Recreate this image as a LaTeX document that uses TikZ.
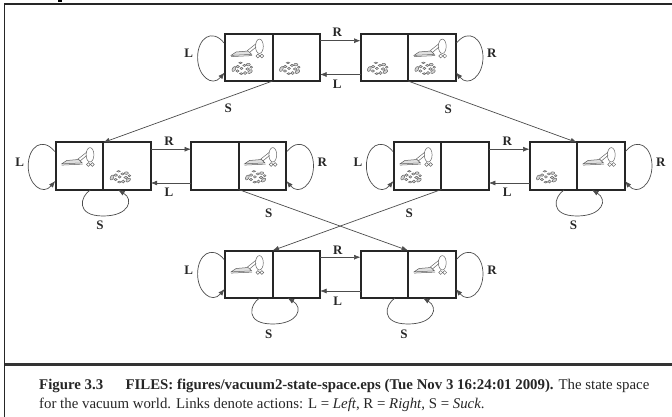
\documentclass[tikz,border=0pt]{standalone}
\usepackage{fontspec}
\setmainfont{Liberation Serif}
\usetikzlibrary{arrows.meta,calc}
\tikzset{
  state/.style={draw=black!85,line width=2pt,minimum width=95pt,minimum height=47pt,inner sep=0pt,outer sep=0pt,fill=none},
  divider/.style={draw=black!85,line width=2pt},
  conn/.style={draw=black!70,line width=0.7pt,-{Latex[length=6.5pt,width=5pt]},shorten >=0pt},
  lab/.style={font=\bfseries\fontsize{13}{14}\selectfont,inner sep=0pt,text=black!85},
  frameline/.style={draw=black!85,line width=1.6pt},
  vacpic/.pic={
    \draw[black!60,line width=0.5pt,fill=white] (34.3,12.3) ellipse [x radius=3.9pt,y radius=7.2pt];
    \draw[black!60,line width=0.5pt] (22,16.8)--(30.8,9.8) (24,18.8)--(31,13);
    \draw[black!65,line width=0.5pt,fill=black!12] (6,21.4)--(11,18)--(23,17)--(26.5,20.4)--cycle;
    \draw[black!65,line width=0.5pt] (6,22.6)--(27,21.6);
    \draw[black!60,line width=0.5pt,fill=white] (32.7,22) circle [radius=1.9pt] (36.7,22) circle [radius=1.9pt];
  },
  dirtpic/.pic={
    \begin{scope}[shift={(17,34)},draw=black!60,line width=0.5pt,fill=black!18]
      \filldraw[rotate around={60:(-8.2,1)}] (-8.2,1) ellipse [x radius=2.7pt,y radius=1.6pt];
      \filldraw (-4.4,-1.4) ellipse [x radius=1.8pt,y radius=1.3pt];
      \filldraw (-4.6,3) ellipse [x radius=1.6pt,y radius=1.2pt];
      \filldraw (-1.6,-5.2) ellipse [x radius=1.7pt,y radius=0.8pt];
      \filldraw (-0.6,0.4) ellipse [x radius=1.5pt,y radius=1.2pt];
      \filldraw (-0.8,5.6) ellipse [x radius=1.8pt,y radius=0.9pt];
      \filldraw (2.4,-2.6) ellipse [x radius=1.7pt,y radius=1.1pt];
      \filldraw (3,5) ellipse [x radius=1.7pt,y radius=1.5pt];
      \filldraw (6.2,-3.4) ellipse [x radius=2pt,y radius=1.3pt];
      \filldraw (5.6,1) ellipse [x radius=1.9pt,y radius=1.3pt];
      \filldraw[rotate around={35:(8,3.6)}] (8,3.6) ellipse [x radius=2.6pt,y radius=1.5pt];
      \filldraw (9.2,-0.8) ellipse [x radius=1.3pt,y radius=1.1pt];
    \end{scope}
  }
}
\newcommand{\vacin}[2]{\pic at ([xshift=#2pt]#1.north west) {vacpic};}
\newcommand{\dirtin}[2]{\pic at ([xshift=#2pt]#1.north west) {dirtpic};}
\newcommand{\loopL}[1]{\draw[conn] ([shift={(-1,-14.5)}]#1.west) .. controls ([shift={(-13,-29.5)}]#1.west) and ([shift={(-27.5,-19.5)}]#1.west) .. ([shift={(-27.5,0)}]#1.west) .. controls ([shift={(-27.5,18.5)}]#1.west) and ([shift={(-13,30)}]#1.west) .. ([shift={(-0.5,15)}]#1.west);}
\newcommand{\loopR}[1]{\draw[conn] ([shift={(1,-14.5)}]#1.east) .. controls ([shift={(13,-29.5)}]#1.east) and ([shift={(27.5,-19.5)}]#1.east) .. ([shift={(27.5,0)}]#1.east) .. controls ([shift={(27.5,18.5)}]#1.east) and ([shift={(13,30)}]#1.east) .. ([shift={(0.5,15)}]#1.east);}
\newcommand{\loopS}[1]{\draw[conn] ([shift={(-13,0.5)}]#1.south) .. controls ([shift={(-23,7)}]#1.south) and ([shift={(-28,26.5)}]#1.south) .. ([shift={(0,26.5)}]#1.south) .. controls ([shift={(26,26.5)}]#1.south) and ([shift={(31,10)}]#1.south) .. ([shift={(15,0.5)}]#1.south);}
\newcommand{\pairRL}[2]{\draw[conn] ([shift={(0,-16.8)}]#1.east) -- ([shift={(0,-16.8)}]#2.west);
  \draw[conn] ([shift={(0,17)}]#2.west) -- ([shift={(0,17)}]#1.east);}
\begin{document}
\begin{tikzpicture}[x=1pt,y=-1pt]
\useasboundingbox (0,0) rectangle (672,417);
% frame
\fill[black] (57.5,0) rectangle (61.5,1.6);
\coordinate (fa) at (4.6,417);
\coordinate (fb) at (4.6,4);
\coordinate (fc) at (672,4);
\coordinate (fd) at (4.6,364.6);
\coordinate (fe) at (672,364.6);
\draw[frameline] (fa) -- (fb) -- (fc);
\draw[draw=black!80,line width=2.8pt] (fd) -- (fe);
% states
\node[state] (s1) at (272.6,57.5) {};
\node[state] (s2) at (408,57.5) {};
\node[state] (s3) at (103.2,166) {};
\node[state] (s4) at (238.5,166) {};
\node[state] (s5) at (441.4,166) {};
\node[state] (s6) at (577,166) {};
\node[state] (s7) at (272.6,274) {};
\node[state] (s8) at (408,274) {};
\foreach \n in {s1,s2,s3,s4,s5,s6,s7,s8}{\draw[divider] (\n.north) -- (\n.south);}
% contents
\vacin{s1}{0}\dirtin{s1}{0}\dirtin{s1}{47.5}
\dirtin{s2}{0}\vacin{s2}{47.5}\dirtin{s2}{47.5}
\vacin{s3}{0}\dirtin{s3}{47.5}
\vacin{s4}{47.5}\dirtin{s4}{47.5}
\vacin{s5}{0}\dirtin{s5}{0}
\dirtin{s6}{0}\vacin{s6}{47.5}
\vacin{s7}{0}
\vacin{s8}{47.5}
% connectors
\pairRL{s1}{s2}\pairRL{s3}{s4}\pairRL{s5}{s6}\pairRL{s7}{s8}
\loopL{s1}\loopR{s2}\loopL{s3}\loopR{s4}\loopL{s5}\loopR{s6}\loopL{s7}\loopR{s8}
\loopS{s3}\loopS{s6}\loopS{s7}\loopS{s8}
\draw[conn] (s1.south) -- (s3.north);
\draw[conn] (s2.south) -- (s6.north);
\draw[conn] (s4.south) -- (s8.north);
\draw[conn] (s5.south) -- (s7.north);
% labels
\node[lab] (l1) at (188.7,53.5) {L};
\node[lab] (l2) at (337.3,32.3) {R};
\node[lab] (l3) at (337.3,84.5) {L};
\node[lab] (l4) at (491.7,53) {R};
\node[lab] (l5) at (228.3,108.7) {S};
\node[lab] (l6) at (448.3,109) {S};
\node[lab] (l7) at (19.7,162.3) {L};
\node[lab] (l8) at (169,141.3) {R};
\node[lab] (l9) at (169,192.3) {L};
\node[lab] (l10) at (322.3,162.3) {R};
\node[lab] (l11) at (358,162.3) {L};
\node[lab] (l12) at (507.3,141.3) {R};
\node[lab] (l13) at (507.3,192.5) {L};
\node[lab] (l14) at (660.7,162.3) {R};
\node[lab] (l15) at (268.7,213) {S};
\node[lab] (l16) at (409.3,213) {S};
\node[lab] (l17) at (99.9,225.7) {S};
\node[lab] (l18) at (573.5,225.7) {S};
\node[lab] (l19) at (188.6,270.3) {L};
\node[lab] (l20) at (337.7,250) {R};
\node[lab] (l21) at (337.7,301.3) {L};
\node[lab] (l22) at (492,270.3) {R};
\node[lab] (l23) at (268.7,334.3) {S};
\node[lab] (l24) at (404,334.3) {S};
% caption
\node[anchor=north west,inner sep=0pt,align=left,text=black!85,font=\fontsize{14.85}{19}\selectfont] (cap) at (39,378.5) {\textbf{Figure 3.3}\hspace{1.5em}\textbf{FILES: figures/vacuum2-state-space.eps (Tue Nov 3 16:24:01 2009).} The state space\\for the vacuum world. Links denote actions: L = \textit{Left}, R = \textit{Right}, S = \textit{Suck}.};
\end{tikzpicture}
\end{document}
